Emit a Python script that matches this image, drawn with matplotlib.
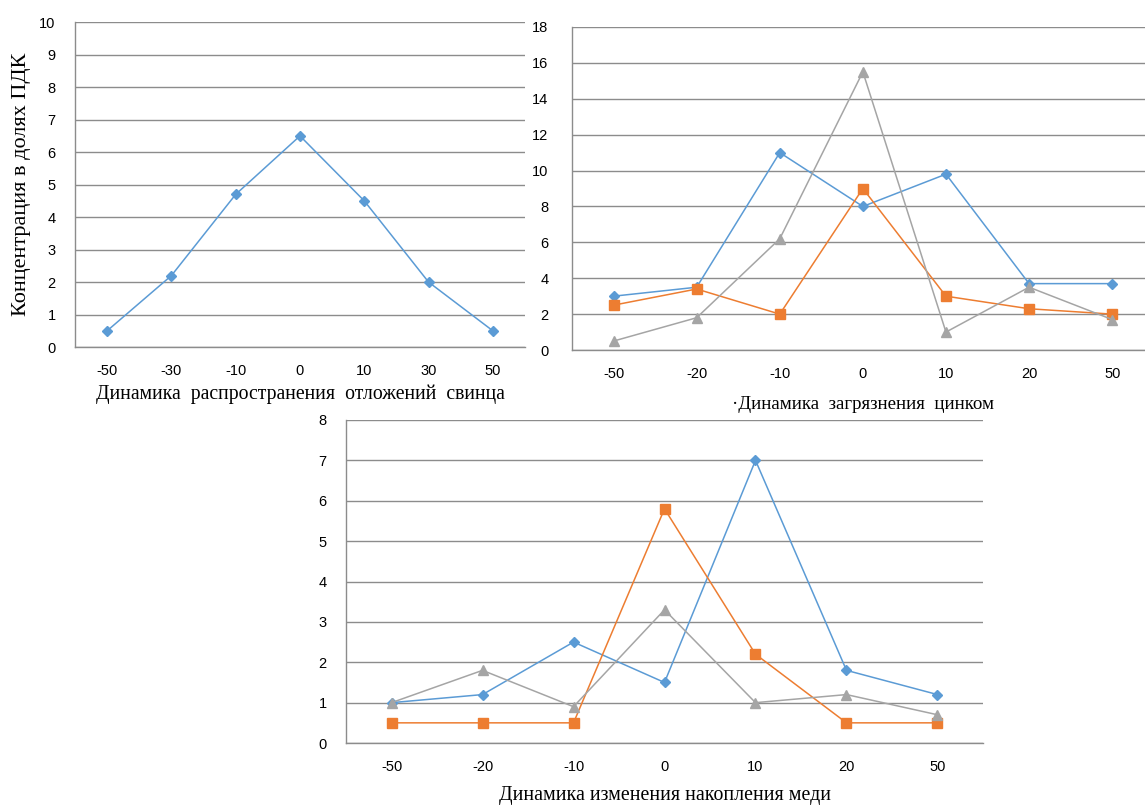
import matplotlib
matplotlib.use("Agg")
import matplotlib.pyplot as plt

# categories (distance) and concentrations in fractions of MPC
lead_x = ["-50", "-30", "-10", "0", "10", "30", "50"]
lead_y = [0.5, 2.2, 4.7, 6.5, 4.5, 2.0, 0.5]

zinc_x = ["-50", "-20", "-10", "0", "10", "20", "50"]
zinc_blue = [3.0, 3.5, 11.0, 8.0, 9.8, 3.7, 3.7]
zinc_orange = [2.5, 3.4, 2.0, 9.0, 3.0, 2.3, 2.0]
zinc_gray = [0.5, 1.8, 6.2, 15.5, 1.0, 3.5, 1.7]

copper_x = ["-50", "-20", "-10", "0", "10", "20", "50"]
copper_blue = [1.0, 1.2, 2.5, 1.5, 7.0, 1.8, 1.2]
copper_orange = [0.5, 0.5, 0.5, 5.8, 2.2, 0.5, 0.5]
copper_gray = [1.0, 1.8, 0.9, 3.3, 1.0, 1.2, 0.7]

BLUE = "#5B9BD5"
ORANGE = "#ED7D31"
GRAY = "#A5A5A5"
GRID = "#8C8C8C"

TICK_FONT = ["Liberation Sans Narrow", "Liberation Sans", "DejaVu Sans"]
LABEL_FONT = ["Liberation Serif", "DejaVu Serif"]


def _style(ax, cats, ymax, ystep, ypad):
    n = len(cats)
    ax.set_xlim(-0.5, n - 0.5)
    ax.set_ylim(0, ymax)
    ax.set_xticks(range(n))
    ax.set_xticklabels(cats)
    ax.set_yticks(range(0, ymax + 1, ystep))
    ax.yaxis.grid(True, color=GRID, linewidth=1.0)
    ax.set_axisbelow(True)
    for s in ("top", "right"):
        ax.spines[s].set_visible(False)
    for s in ("left", "bottom"):
        ax.spines[s].set_color(GRID)
        ax.spines[s].set_linewidth(1.0)
    ax.tick_params(axis="x", length=0, pad=12)
    ax.tick_params(axis="y", length=0, pad=ypad)
    for lab in ax.get_xticklabels() + ax.get_yticklabels():
        lab.set_fontfamily(TICK_FONT)
        lab.set_fontsize(10.5)


def _line(ax, vals, color, marker, ms):
    ax.plot(range(len(vals)), vals, color=color, linewidth=1.1,
            marker=marker, markersize=ms, markerfacecolor=color,
            markeredgecolor=color, clip_on=False)


fig = plt.figure(figsize=(11.45, 8.08), dpi=100)

# lead
ax1 = fig.add_axes([0.0655, 0.5705, 0.393, 0.402])
_style(ax1, lead_x, 10, 1, 14)
_line(ax1, lead_y, BLUE, "D", 5)
ax1.set_xlabel("Динамика  распространения  отложений  свинца",
               family=LABEL_FONT, fontsize=14.2, labelpad=5)
ax1.set_ylabel("Концентрация в долях ПДК", family=LABEL_FONT,
               fontsize=16, labelpad=6)

# zinc
ax2 = fig.add_axes([0.4996, 0.5668, 0.508, 0.3998])
_style(ax2, zinc_x, 18, 2, 17)
_line(ax2, zinc_blue, BLUE, "D", 5)
_line(ax2, zinc_orange, ORANGE, "s", 7)
_line(ax2, zinc_gray, GRAY, "^", 7)
ax2.set_xlabel("·Динамика  загрязнения  цинком",
               family=LABEL_FONT, fontsize=13.6, labelpad=11)

# copper
ax3 = fig.add_axes([0.3022, 0.0804, 0.5563, 0.3998])
_style(ax3, copper_x, 8, 1, 14)
_line(ax3, copper_blue, BLUE, "D", 5)
_line(ax3, copper_orange, ORANGE, "s", 7)
_line(ax3, copper_gray, GRAY, "^", 7)
ax3.set_xlabel("Динамика изменения накопления меди",
               family=LABEL_FONT, fontsize=14.3, labelpad=9)

fig.savefig("out.png", dpi=100)
